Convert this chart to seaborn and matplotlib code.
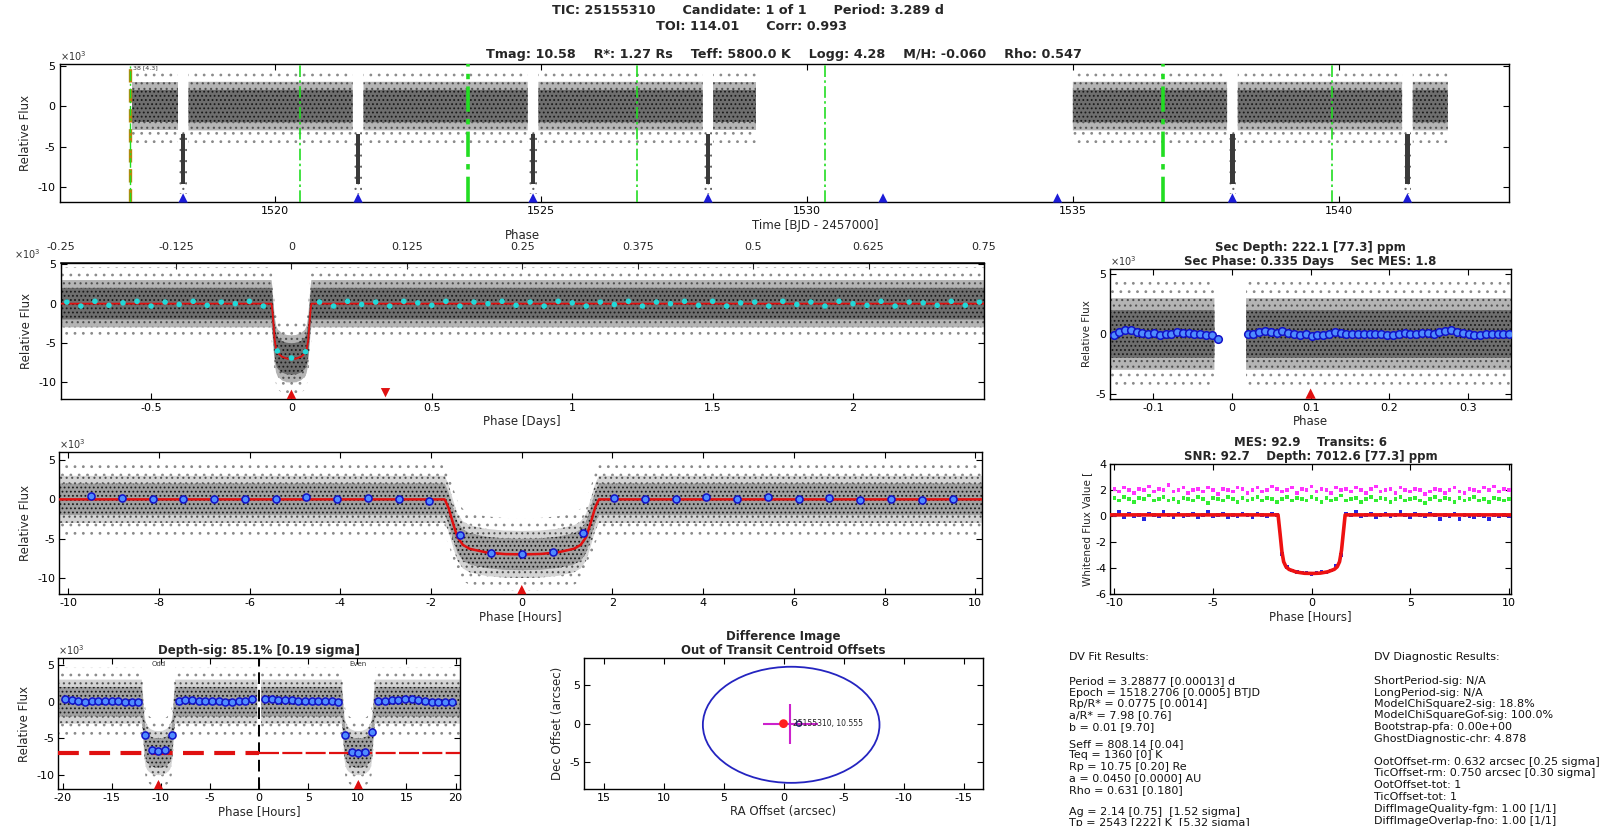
import numpy as np
import matplotlib
matplotlib.use("Agg")
import matplotlib.pyplot as plt
from matplotlib.ticker import FixedLocator, FuncFormatter
from matplotlib.patches import Ellipse
import seaborn as sns

sns.set_theme(style="white")
plt.rcParams["font.family"] = ["DejaVu Sans"]
plt.rcParams["hatch.linewidth"] = 0.8

# ---------------- candidate summary ----------------
PERIOD = 3.28877
EPOCH = 1518.2706

# ---------------- full light curve (flux in 1e-3) ----------------
transit_times = [1518.27, 1521.56, 1524.85, 1528.14, 1531.43, 1534.71, 1538.00, 1541.29]
data_segments = [(1517.30, 1529.05), (1535.00, 1542.05)]
momentum_dumps = [1520.47, 1523.63, 1526.80, 1530.33, 1536.70, 1539.87]
dump_weights = [1.2, 2.6, 1.2, 1.2, 2.6, 1.2]
first_marker = 1517.27

# scatter envelope of the unbinned cadences (flux 1e-3): dense core, mid, sparse outliers
core_half = 2.0
mid_half = 3.0
outer_half = 4.6

# ---------------- transit model (hours from mid-transit) ----------------
model_dt = [-1.70, -1.62, -1.52, -1.42, -1.30, -1.15, -0.80, -0.40, 0.00,
            0.40, 0.80, 1.15, 1.30, 1.42, 1.52, 1.62, 1.70]
model_flux = [0.0, -1.0, -3.0, -4.8, -5.8, -6.3, -6.75, -6.97, -7.02,
              -6.97, -6.75, -6.3, -5.8, -4.8, -3.0, -1.0, 0.0]

# ---------------- phase-folded, binned every 0.05 d ----------------
fold_bin_start = -0.80
fold_bin_step = 0.05
fold_bins = [0.2, -0.3, 0.3, -0.2, 0.1, 0.3, -0.3, 0.2, -0.1, 0.3, -0.2, 0.2, 0.0, 0.3, -0.3,
             -6.0, -6.9, -6.1,
             0.2, -0.3, 0.3, -0.1, 0.2, -0.3, 0.3, 0.1, -0.2, 0.3,
             -0.3, 0.2, 0.0, 0.3, -0.2, 0.2, -0.3, 0.3, 0.1, -0.3,
             0.2, -0.1, 0.3, -0.3, 0.2, 0.0, 0.3, -0.2, 0.3, -0.3,
             0.1, 0.2, -0.3, 0.3, -0.1, 0.2, -0.3, 0.3, 0.0, -0.2,
             0.3, -0.3, 0.2, 0.1, -0.2, 0.3, -0.2, 0.2]
secondary_phase_days = 0.335

# ---------------- zoomed transit, binned points ----------------
zoom_bin_hours = list(np.round(np.linspace(-9.5, 9.5, 29), 3))
zoom_bin_flux = [0.43, 0.13, 0.09, 0.09, 0.0, 0.09, 0.0, 0.30, 0.09, 0.17, 0.09, -0.21,
                 -4.6, -6.8, -6.94, -6.72, -4.34,
                 0.13, 0.09, 0.0, 0.34, 0.09, 0.26, 0.09, 0.21, -0.09, 0.0, -0.09, 0.09]

# ---------------- secondary eclipse search ----------------
sec_gap = (-0.022, 0.018)
sec_left_phase = list(np.round(np.linspace(-0.150, -0.018, 19), 4))
sec_left_flux = [-0.11, 0.17, 0.36, 0.31, 0.17, 0.11, 0.03, 0.08, -0.06, 0.03, -0.03,
                 0.17, 0.11, 0.08, 0.03, 0.0, -0.06, -0.06, -0.44]
sec_right_phase = list(np.round(np.linspace(0.020, 0.352, 46), 4))
sec_right_flux = [0.0, 0.03, 0.17, 0.25, 0.17, 0.11, 0.25, 0.11, 0.03, -0.06, -0.03, -0.19,
                  -0.11, -0.06, 0.03, 0.17, 0.11, 0.03, -0.03, 0.03, -0.03, 0.0, 0.03, 0.0,
                  -0.06, -0.11, -0.03, 0.08, 0.03, -0.03, 0.08, 0.08, 0.03, 0.17, 0.22, 0.31,
                  0.17, 0.08, 0.03, -0.06, -0.11, -0.03, 0.03, 0.0, -0.03, 0.0]
sec_marker_phase = 0.1

# ---------------- whitened flux, binned every 0.25 h from -10 h ----------------
white_start = -10.0
white_step = 0.25
white_magenta = [2.1, 1.9, 2.2, 2.0, 1.8, 2.1, 2.0, 2.3, 1.9, 2.1,
                 2.0, 2.4, 1.9, 2.0, 2.2, 1.8, 2.0, 2.1, 1.9, 2.2,
                 2.0, 1.7, 2.1, 2.0, 1.9, 2.2, 2.1, 1.8, 2.0, 2.2,
                 1.9, 2.0, 2.3, 2.1, 1.9, 2.0, 2.2, 1.8, 2.1, 2.0,
                 2.3, 1.9, 2.1, 2.0, 1.8, 2.2, 2.0, 2.1, 1.9, 2.2,
                 2.0, 1.8, 2.1, 2.3, 1.9, 2.0, 2.1, 1.8, 2.2, 2.0,
                 1.9, 2.1, 2.0, 1.7, 1.9, 2.1, 2.0, 1.8, 2.0, 2.2,
                 1.9, 1.8, 2.1, 2.0, 1.9, 2.2, 2.0, 2.3, 1.9, 2.1, 2.0]
white_green = [1.4, 1.2, 1.5, 1.3, 1.1, 1.4, 1.3, 1.6, 1.2, 1.3,
               1.5, 1.2, 1.3, 1.1, 1.4, 1.3, 1.2, 1.5, 1.3, 1.0,
               1.4, 1.3, 1.2, 1.5, 1.3, 1.1, 1.4, 1.2, 1.3, 1.5,
               1.2, 1.4, 1.3, 1.1, 1.3, 1.5, 1.2, 1.4, 1.3, 1.2,
               1.5, 1.3, 1.1, 1.4, 1.2, 1.3, 1.6, 1.2, 1.3, 1.4,
               1.1, 1.3, 1.5, 1.2, 1.4, 1.3, 1.1, 1.3, 1.5, 1.2,
               1.3, 1.4, 1.2, 1.0, 1.3, 1.5, 1.2, 1.4, 1.3, 1.1,
               1.4, 1.2, 1.3, 1.5, 1.2, 1.3, 1.1, 1.4, 1.3, 1.2, 1.3]
white_blue = [0.1, 0.3, -0.1, 0.2, 0.0, 0.1, -0.2, 0.2, 0.1, 0.0,
              0.3, 0.1, -0.1, 0.2, 0.0, 0.1, 0.2, -0.1, 0.1, 0.3,
              0.0, 0.1, 0.2, -0.1, 0.1, 0.0, 0.2, 0.1, -0.1, 0.2,
              0.1, 0.0, 0.2, 0.1,
              -2.9, -3.9, -4.2, -4.3, -4.35, -4.4, -4.45, -4.4, -4.3, -4.35, -4.2, -3.8, -3.0,
              0.2, 0.1, 0.3, 0.0, 0.1, 0.2, -0.1, 0.1, 0.2, 0.0,
              0.1, 0.3, 0.1, -0.1, 0.2, 0.1, 0.0, 0.2, 0.1, -0.2,
              0.1, 0.0, 0.2, -0.2, 0.1, 0.0, -0.1, 0.1, 0.0, -0.2,
              0.1, 0.0, 0.1, 0.0]
white_model_flux = [0.1, -1.0, -2.6, -3.5, -3.9, -4.1, -4.3, -4.4, -4.42,
                    -4.4, -4.3, -4.1, -3.9, -3.5, -2.6, -1.0, 0.1]
white_model_base = 0.1

# ---------------- odd / even transits (hours) ----------------
odd_center, even_center = -10.25, 10.10
oe_step = 0.68
odd_flux = [0.4, 0.25, 0.1, 0.0, 0.1, 0.15, 0.15, 0.1, 0.1, 0.0, 0.0, -0.05,
            -4.5, -6.6, -6.75, -6.6, -4.6,
            0.15, 0.2, 0.2, 0.15, 0.1, 0.05, 0.1, 0.0, 0.0, 0.05, 0.1, 0.3]
even_flux = [0.3, 0.3, 0.25, 0.2, 0.2, 0.1, 0.1, 0.05, 0.05, 0.1, 0.05, 0.0,
             -4.6, -6.8, -7.0, -6.8, -4.1,
             0.1, 0.15, 0.2, 0.25, 0.3, 0.3, 0.2, 0.1, 0.0, -0.1, -0.05, 0.0]
odd_depth = -6.95
even_depth = -7.0

# ---------------- centroid offsets (arcsec) ----------------
oot_ra, oot_dec = -0.56, -0.10
oot_ra_err, oot_dec_err = 2.3, 2.6
circle_ra, circle_dec = -0.64, -0.15
circle_r_ra, circle_r_dec = 7.36, 7.55
tic_ra, tic_dec = -1.3, 0.0
tic_label = "25155310, 10.555"

fit_results = [
    ("DV Fit Results:", 657),
    ("Period = 3.28877 [0.00013] d", 681),
    ("Epoch = 1518.2706 [0.0005] BTJD", 692.5),
    ("Rp/R* = 0.0775 [0.0014]", 704),
    ("a/R* = 7.98 [0.76]", 715.5),
    ("b = 0.01 [9.70]", 727),
    ("Seff = 808.14 [0.04]", 744),
    ("Teq = 1360 [0] K", 755.5),
    ("Rp = 10.75 [0.20] Re", 767),
    ("a = 0.0450 [0.0000] AU", 778.5),
    ("Rho = 0.631 [0.180]", 790),
    ("Ag = 2.14 [0.75]  [1.52 sigma]", 812),
    ("Tp = 2543 [222] K  [5.32 sigma]", 823.5),
]
diag_results = [
    ("DV Diagnostic Results:", 657),
    ("ShortPeriod-sig: N/A", 681),
    ("LongPeriod-sig: N/A", 692.5),
    ("ModelChiSquare2-sig: 18.8%", 704),
    ("ModelChiSquareGof-sig: 100.0%", 715.5),
    ("Bootstrap-pfa: 0.00e+00", 727),
    ("GhostDiagnostic-chr: 4.878", 738.5),
    ("OotOffset-rm: 0.632 arcsec [0.25 sigma]", 762),
    ("TicOffset-rm: 0.750 arcsec [0.30 sigma]", 773.5),
    ("OotOffset-tot: 1", 785),
    ("TicOffset-tot: 1", 796.5),
    ("DiffImageQuality-fgm: 1.00 [1/1]", 809),
    ("DiffImageOverlap-fno: 1.00 [1/1]", 820.5),
]

# =====================================================================
W, H = 1603, 826
fig = plt.figure(figsize=(W / 100, H / 100), dpi=100)
fig.patch.set_facecolor("white")

TICK_FS = 8
LAB_FS = 8.5
TITLE_FS = 8.5

DARK = ("#6e6e6e", "#b4b4b4")
LIGHT = ("#a0a0a0", "#d4d4d4")


def axes_px(left, right, top, bottom):
    return fig.add_axes([left / W, 1 - bottom / H, (right - left) / W, (bottom - top) / H])


def fmt(v, _pos=None):
    if abs(v) < 1e-12:
        return "0"
    return f"{v:g}"


def style(ax, xlim, ylim, xticks, yticks, top=True):
    ax.set_xlim(xlim)
    ax.set_ylim(ylim)
    ax.xaxis.set_major_locator(FixedLocator(xticks))
    ax.yaxis.set_major_locator(FixedLocator(yticks))
    ax.xaxis.set_major_formatter(FuncFormatter(fmt))
    ax.yaxis.set_major_formatter(FuncFormatter(fmt))
    ax.tick_params(direction="in", bottom=True, left=True, top=top, right=True,
                   length=4, width=0.8, labelsize=TICK_FS, pad=3, colors="black")
    for s in ax.spines.values():
        s.set_color("black")
        s.set_linewidth(1.0)
    ax.set_facecolor("white")


def exp_label(ax, x=0.0, ha="left"):
    ax.text(x, 1.01, "×10$^{3}$", transform=ax.transAxes, fontsize=7,
            ha=ha, va="bottom", color="#333333")


def transit_model(hours, t0=0.0):
    return np.interp(np.asarray(hours) - t0, model_dt, model_flux, left=0.0, right=0.0)


def cloud(ax, x, center, where=None, shade=DARK):
    x = np.asarray(x)
    center = np.asarray(center)
    ax.fill_between(x, center - outer_half, center + outer_half, where=where, facecolor="none",
                    edgecolor="#8a8a8a", hatch="..", linewidth=0, zorder=1)
    ax.fill_between(x, center - mid_half, center + mid_half, where=where, facecolor=shade[1],
                    edgecolor="#505050", hatch="...", linewidth=0, zorder=1.1)
    ax.fill_between(x, center - core_half, center + core_half, where=where, facecolor=shade[0],
                    edgecolor="#1a1a1a", hatch="....", linewidth=0, zorder=1.2)


def marker_row(ax, xs, y, marker, color, size=45):
    sns.scatterplot(x=list(xs), y=[y] * len(xs), marker=marker, color=color, s=size,
                    edgecolor="none", ax=ax, zorder=6, legend=False, clip_on=False)


def bins(ax, x, y, size=26):
    sns.scatterplot(x=list(x), y=list(y), marker="o", s=size, color="#4f8cff",
                    edgecolor="#1212c8", linewidth=1.1, ax=ax, zorder=5, legend=False)


# ---------------- figure header ----------------
fig.text(748 / W, 1 - 11 / H, "TIC: 25155310      Candidate: 1 of 1      Period: 3.289 d",
         ha="center", va="center", fontsize=9.2, fontweight="bold")
fig.text(752 / W, 1 - 26 / H, "TOI: 114.01      Corr: 0.993",
         ha="center", va="center", fontsize=9.2, fontweight="bold")

# ---------------- full light curve ----------------
ax1 = axes_px(59.7, 1509, 64, 202)
for s, e in data_segments:
    xs = np.linspace(s, e, 6000)
    keep = np.ones_like(xs, dtype=bool)
    for t in transit_times:
        keep &= np.abs(xs - t) > 0.10
    cloud(ax1, xs, np.zeros_like(xs), where=keep)
    for t in transit_times:
        if s < t < e:
            ax1.fill_between([t - 0.07, t + 0.07], -10.8, -2.8, facecolor="none",
                             edgecolor="#666666", hatch="...", linewidth=0, zorder=1)
            ax1.fill_between([t - 0.045, t + 0.045], -9.6, -3.4, facecolor="#3a3a3a",
                             linewidth=0, zorder=1.2)
for xd, w in zip(momentum_dumps, dump_weights):
    ax1.axvline(xd, color="#22dd22", ls=(0, (7, 2, 1.5, 2)), lw=w, zorder=3)
ax1.axvline(first_marker, color="#b8860b", ls=(0, (4, 2)), lw=2.4, zorder=3)
ax1.axvline(first_marker, color="#22dd22", ls=(0, (7, 2, 1.5, 2)), lw=1.0, zorder=3.1)
ax1.text(first_marker + 0.05, 5.0, "38 [4.3]", fontsize=4.5, va="top", ha="left", color="#333333")
style(ax1, (1515.95, 1543.2), (-11.85, 5.2), [1520, 1525, 1530, 1535, 1540], [-10, -5, 0, 5])
marker_row(ax1, transit_times, -11.35, "^", "#1c1cd8")
ax1.set_ylabel("Relative Flux", fontsize=LAB_FS, labelpad=4)
ax1.set_xlabel("Time [BJD - 2457000]", fontsize=LAB_FS)
ax1.xaxis.set_label_coords(0.521, -0.12)
ax1.set_title("Tmag: 10.58    R*: 1.27 Rs    Teff: 5800.0 K    Logg: 4.28    M/H: -0.060    Rho: 0.547",
              fontsize=9.2, fontweight="bold", pad=4)
exp_label(ax1)

# ---------------- phase-folded light curve (days) ----------------
ax2 = axes_px(60.6, 984, 262.7, 399)
xd = np.linspace(-0.25 * PERIOD, 0.75 * PERIOD, 4000)
fold_model = transit_model(xd * 24)
cloud(ax2, xd, fold_model)
sns.lineplot(x=xd, y=fold_model, color="#e01010", lw=1.3, ax=ax2, zorder=4)
fold_x = fold_bin_start + fold_bin_step * np.arange(len(fold_bins))
sns.scatterplot(x=fold_x, y=fold_bins, marker="o", s=16, color="#22d8d8", edgecolor="none",
                ax=ax2, zorder=5, legend=False)
style(ax2, (-0.25 * PERIOD, 0.75 * PERIOD), (-12.1, 5.2), [-0.5, 0, 0.5, 1, 1.5, 2],
      [-10, -5, 0, 5], top=False)
marker_row(ax2, [0.0], -11.5, "^", "#e01010")
marker_row(ax2, [secondary_phase_days], -11.3, "v", "#e01010")
phase_ax = ax2.secondary_xaxis("top", functions=(lambda d: d / PERIOD, lambda p: p * PERIOD))
phase_ax.xaxis.set_major_locator(FixedLocator([-0.25, -0.125, 0, 0.125, 0.25, 0.375, 0.5, 0.625, 0.75]))
phase_ax.xaxis.set_major_formatter(FuncFormatter(fmt))
phase_ax.tick_params(direction="in", length=4, width=0.8, labelsize=TICK_FS, pad=8)
phase_ax.set_xlabel("Phase", fontsize=LAB_FS, labelpad=2)
ax2.set_ylabel("Relative Flux", fontsize=LAB_FS, labelpad=4)
ax2.set_xlabel("Phase [Days]", fontsize=LAB_FS, labelpad=1)
exp_label(ax2, x=-0.022, ha="right")

# ---------------- zoomed transit (hours) ----------------
ax3 = axes_px(59.3, 982, 452.3, 594.3)
xh = np.linspace(-10.2, 10.15, 3000)
zoom_model = transit_model(xh)
cloud(ax3, xh, zoom_model, shade=LIGHT)
sns.lineplot(x=xh, y=zoom_model, color="#e01010", lw=1.8, ax=ax3, zorder=4)
bins(ax3, zoom_bin_hours, zoom_bin_flux)
style(ax3, (-10.2, 10.15), (-12.1, 6.0), list(range(-10, 11, 2)), [-10, -5, 0, 5])
marker_row(ax3, [0.0], -11.5, "^", "#e01010")
ax3.set_ylabel("Relative Flux", fontsize=LAB_FS, labelpad=4)
ax3.set_xlabel("Phase [Hours]", fontsize=LAB_FS, labelpad=1)
exp_label(ax3)

# ---------------- secondary eclipse ----------------
ax4 = axes_px(1110.4, 1510.8, 269, 399)
xs4 = np.linspace(-0.154, 0.354, 3000)
cloud(ax4, xs4, np.zeros_like(xs4), where=(xs4 < sec_gap[0]) | (xs4 > sec_gap[1]))
bins(ax4, sec_left_phase, sec_left_flux, size=30)
bins(ax4, sec_right_phase, sec_right_flux, size=30)
style(ax4, (-0.154, 0.354), (-5.45, 5.45), [-0.1, 0, 0.1, 0.2, 0.3], [-5, 0, 5])
marker_row(ax4, [sec_marker_phase], -5.0, "^", "#e01010", size=55)
ax4.set_ylabel("Relative Flux", fontsize=LAB_FS - 1, labelpad=2)
ax4.set_xlabel("Phase", fontsize=LAB_FS, labelpad=1)
ax4.set_title("Sec Depth: 222.1 [77.3] ppm\nSec Phase: 0.335 Days    Sec MES: 1.8",
              fontsize=TITLE_FS, fontweight="bold", pad=3, linespacing=1.1)
exp_label(ax4)

# ---------------- whitened flux ----------------
ax5 = axes_px(1110.4, 1510.8, 464.3, 594)
wx = white_start + white_step * np.arange(len(white_blue))
sns.scatterplot(x=wx, y=white_magenta, marker="s", s=7, color="#ff33ff", edgecolor="none",
                ax=ax5, zorder=3, legend=False)
sns.scatterplot(x=wx, y=white_green, marker="s", s=7, color="#33ee33", edgecolor="none",
                ax=ax5, zorder=3, legend=False)
sns.scatterplot(x=wx, y=white_blue, marker="s", s=7, color="#2626e0", edgecolor="none",
                ax=ax5, zorder=3, legend=False)
wxh = np.linspace(-10.2, 10.1, 2000)
wmodel = np.interp(wxh, model_dt, white_model_flux, left=white_model_base, right=white_model_base)
sns.lineplot(x=wxh, y=wmodel, color="#ee1111", lw=2.6, ax=ax5, zorder=4)
style(ax5, (-10.2, 10.1), (-6, 4), [-10, -5, 0, 5, 10], [-6, -4, -2, 0, 2, 4])
ax5.set_ylabel("Whitened Flux Value [", fontsize=LAB_FS - 1, labelpad=2)
ax5.set_xlabel("Phase [Hours]", fontsize=LAB_FS, labelpad=1)
ax5.set_title("MES: 92.9    Transits: 6\nSNR: 92.7    Depth: 7012.6 [77.3] ppm",
              fontsize=TITLE_FS, fontweight="bold", pad=3, linespacing=1.1)

# ---------------- odd / even ----------------
ax6 = axes_px(58.3, 460, 658.3, 789)
xo = np.linspace(-20.45, -0.2, 2000)
xe = np.linspace(0.2, 20.45, 2000)
cloud(ax6, xo, transit_model(xo, odd_center), shade=LIGHT)
cloud(ax6, xe, transit_model(xe, even_center), shade=LIGHT)
ax6.axvline(0, color="black", ls=(0, (6, 3)), lw=1.4, zorder=3)
ax6.plot([-20.45, 0], [odd_depth, odd_depth], color="#e01010", lw=3.0, ls=(0, (5, 2.5)), zorder=4)
ax6.plot([0, 20.45], [even_depth, even_depth], color="#e01010", lw=1.6, ls=(0, (9, 1.5)), zorder=4)
odd_x = odd_center + oe_step * (np.arange(len(odd_flux)) - len(odd_flux) // 2)
even_x = even_center + oe_step * (np.arange(len(even_flux)) - len(even_flux) // 2)
bins(ax6, odd_x, odd_flux, size=26)
bins(ax6, even_x, even_flux, size=26)
style(ax6, (-20.45, 20.45), (-11.9, 5.9), [-20, -15, -10, -5, 0, 5, 10, 15, 20], [-10, -5, 0, 5])
marker_row(ax6, [odd_center, even_center], -11.3, "^", "#e01010")
ax6.text(odd_center, 5.6, "Odd", fontsize=5, ha="center", va="top", color="#333333")
ax6.text(even_center, 5.6, "Even", fontsize=5, ha="center", va="top", color="#333333")
ax6.set_ylabel("Relative Flux", fontsize=LAB_FS, labelpad=4)
ax6.set_xlabel("Phase [Hours]", fontsize=LAB_FS, labelpad=1)
ax6.set_title("Depth-sig: 85.1% [0.19 sigma]", fontsize=TITLE_FS, fontweight="bold", pad=3)
exp_label(ax6)

# ---------------- centroid offsets ----------------
ax7 = axes_px(584.3, 982.7, 658.3, 789)
ax7.add_patch(Ellipse((circle_ra, circle_dec), 2 * circle_r_ra, 2 * circle_r_dec, fill=False,
                      edgecolor="#2424c0", lw=1.3, zorder=3))
ax7.errorbar([oot_ra], [oot_dec], xerr=[oot_ra_err], yerr=[oot_dec_err], fmt="none",
             ecolor="#cc22cc", elinewidth=1.5, capsize=0, zorder=4)
sns.scatterplot(x=[0.0], y=[0.0], marker="o", s=40, color="#ff2020", edgecolor="none",
                ax=ax7, zorder=5, legend=False)
sns.scatterplot(x=[tic_ra], y=[tic_dec], marker="o", s=14, color="none", edgecolor="#202080",
                linewidth=1.0, ax=ax7, zorder=5, legend=False)
ax7.text(-0.8, 0.0, tic_label, fontsize=5.5, ha="left", va="center", color="#222222", zorder=6)
style(ax7, (16.6, -16.6), (-8.5, 8.5), [15, 10, 5, 0, -5, -10, -15], [-5, 0, 5])
ax7.set_xlabel("RA Offset (arcsec)", fontsize=LAB_FS, labelpad=1)
ax7.set_ylabel("Dec Offset (arcsec)", fontsize=LAB_FS, labelpad=4)
ax7.set_title("Difference Image\nOut of Transit Centroid Offsets", fontsize=TITLE_FS,
              fontweight="bold", pad=3, linespacing=1.1)

# ---------------- fit and diagnostic tables ----------------
for txt, y in fit_results:
    fig.text(1069 / W, 1 - y / H, txt, fontsize=8, va="center", ha="left", color="#111111")
for txt, y in diag_results:
    fig.text(1374 / W, 1 - y / H, txt, fontsize=8, va="center", ha="left", color="#111111")

fig.savefig("out.png", dpi=100, facecolor="white")
